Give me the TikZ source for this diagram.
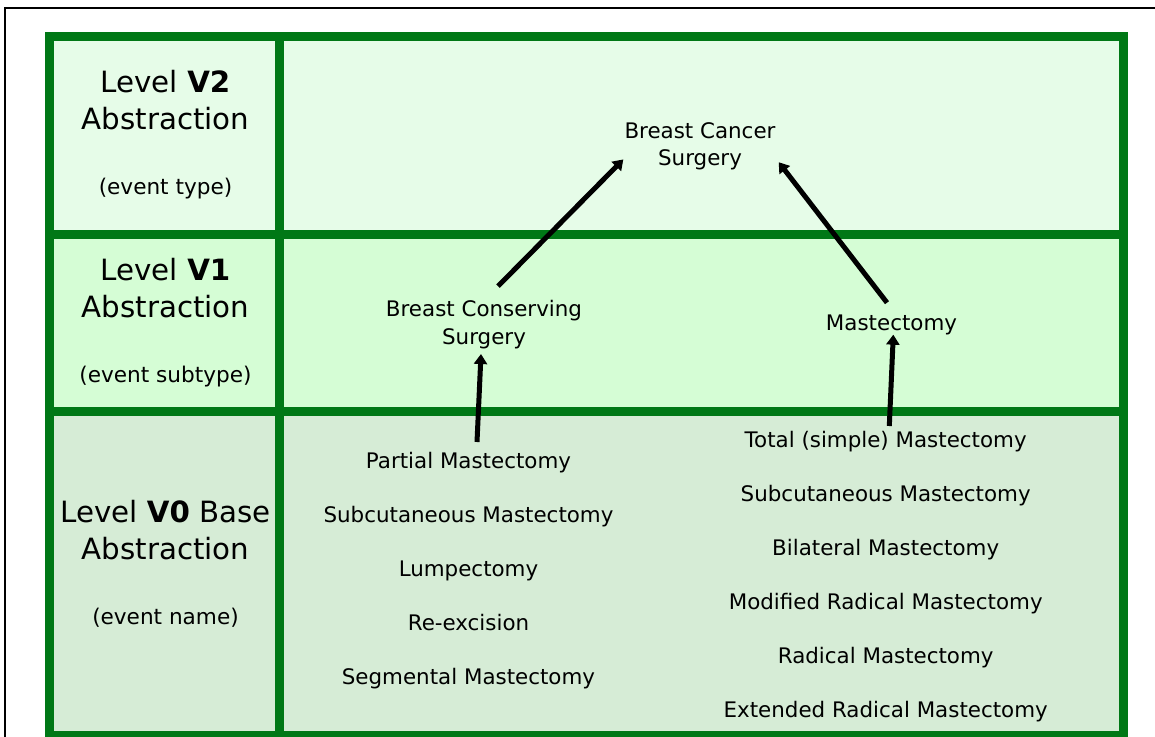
\documentclass[tikz,border=0pt]{standalone}
\usepackage{fontspec}
\setmainfont{DejaVu Sans}
\usetikzlibrary{arrows.meta}
\definecolor{gridgreen}{RGB}{0,120,22}
\definecolor{rowtop}{RGB}{230,252,232}
\definecolor{rowmid}{RGB}{213,253,213}
\definecolor{rowbot}{RGB}{214,236,214}
\begin{document}
\begin{tikzpicture}[x=1pt,y=-1pt,
  lvltitle/.style={inner sep=0pt, align=center, anchor=north, font=\fontsize{29.3}{36.7}\selectfont},
  lvlnote/.style={inner sep=0pt, anchor=base, font=\fontsize{21.6}{26}\selectfont},
  evtlabel/.style={inner sep=0pt, align=center, font=\fontsize{21.4}{27.7}\selectfont},
  evtlist/.style={inner sep=0pt, align=center, anchor=north, font=\fontsize{21.4}{54}\selectfont},
  gridline/.style={draw=gridgreen, line width=9pt},
  liftarrow/.style={draw=black, line width=5pt, -{Triangle[length=10pt,width=13pt]}}]

\useasboundingbox (0,0) rectangle (1155,736);
\clip (0,0) rectangle (1155,736);

% thin outer frame
\draw[line width=2pt] (5.3,7.7) rectangle (1170,750);

% row backgrounds
\fill[rowtop] (49.5,36.5) rectangle (1123.5,234.7);
\fill[rowmid] (49.5,234.7) rectangle (1123.5,411);
\fill[rowbot] (49.5,411) rectangle (1123.5,735.5);

% table rules
\draw[gridline] (49.5,36.5) rectangle (1123.5,735.5);
\draw[gridline] (279.5,36.5) -- (279.5,735.5);
\draw[gridline] (49.5,234.7) -- (1123.5,234.7);
\draw[gridline] (49.5,411) -- (1123.5,411);

% level headings
\node[lvltitle] (t2) at (165.5,70.1) {Level \textbf{V2}\\Abstraction};
\node[lvlnote]  (n2) at (165.5,194.5) {(event type)};
\node[lvltitle] (t1) at (165.5,258.1) {Level \textbf{V1}\\Abstraction};
\node[lvlnote]  (n1) at (165.5,382.5) {(event subtype)};
\node[lvltitle] (t0) at (165.5,500.1) {Level \textbf{V0} Base\\Abstraction};
\node[lvlnote]  (n0) at (165.5,624.5) {(event name)};

% event hierarchy
\node[evtlabel, anchor=north] (bcsurg) at (700,122.2) {Breast Cancer\\Surgery};
\node[evtlabel, anchor=north] (bcs) at (484,300.2) {Breast Conserving\\Surgery};
\node[evtlabel, anchor=base] (mast) at (891.5,330) {Mastectomy};

\node[evtlist] (leftlist) at (468.5,452.2)
  {Partial Mastectomy\\Subcutaneous Mastectomy\\Lumpectomy\\Re-excision\\Segmental Mastectomy};
\node[evtlist] (rightlist) at (885.7,430.6)
  {Total (simple) Mastectomy\\Subcutaneous Mastectomy\\Bilateral Mastectomy\\Modified Radical Mastectomy\\Radical Mastectomy\\Extended Radical Mastectomy};

% generalisation arrows
\draw[liftarrow] ([shift={(14,-14)}]bcs.north) -- ([shift={(-1,13)}]bcsurg.west);
\draw[liftarrow] ([shift={(-4.5,-11.5)}]mast.north) -- ([shift={(3,15.8)}]bcsurg.east);
\draw[liftarrow] ([shift={(8.5,-10.2)}]leftlist.north) -- ([shift={(-3,5)}]bcs.south);
\draw[liftarrow] ([shift={(3.6,-4.6)}]rightlist.north) -- ([shift={(1.8,0)}]mast.south);
\end{tikzpicture}
\end{document}
